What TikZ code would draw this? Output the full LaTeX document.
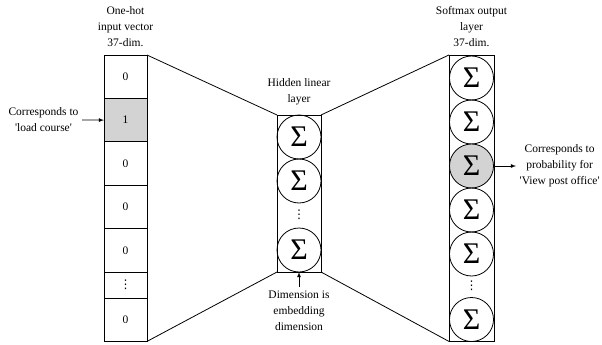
\documentclass[tikz,border=0pt]{standalone}
\usepackage{fontspec}
\setmainfont{Liberation Serif}
\newfontfamily\dotfont{DejaVu Sans}
\usetikzlibrary{arrows,calc,positioning}
\definecolor{cellgray}{RGB}{211,211,211}
\newcommand{\vdotsglyph}{{\dotfont ⋮}}
\tikzset{
	cell/.style={draw, minimum width=43pt, minimum height=43.4pt, inner sep=0pt, outer sep=0pt, font=\fontsize{11.5}{14}\selectfont},
	dotcell/.style={cell, minimum height=26pt, font=\fontsize{12}{14}\selectfont},
	unit/.style={draw, circle, minimum size=44pt, inner sep=0pt, font=\fontsize{30}{30}\selectfont},
	vdot/.style={inner sep=0pt, font=\fontsize{12}{14}\selectfont},
	lbl/.style={align=center, font=\fontsize{11.5}{16}\selectfont},
	layerbox/.style={draw, inner sep=0pt, outer sep=0pt}
}

\begin{document}
\begin{tikzpicture}[x=1pt,y=-1pt,line width=0.8pt]
		\useasboundingbox (0,0) rectangle (602,345);
		% input vector
		\node[cell] (in1) at (125.5,76.7) {0};
		\node[cell, fill=cellgray, below=0pt of in1] (in2) {1};
		\node[cell, below=0pt of in2] (in3) {0};
		\node[cell, below=0pt of in3] (in4) {0};
		\node[cell, below=0pt of in4] (in5) {0};
		\node[dotcell, below=0pt of in5] (in6) {\vdotsglyph};
		\node[cell, below=0pt of in6] (in7) {0};
		\node[lbl] (intitle) at (125.5,27) {One-hot\\input vector\\37-dim.};
		\node[lbl] (inlbl) at (43.5,120) {Corresponds to\\\textquotesingle load course\textquotesingle};
		\draw[-latex] (inlbl.east) to (in2.west);
		% hidden layer
		\node[layerbox, minimum width=44pt, minimum height=157pt] (hid) at (299,193.5) {};
		\node[unit] (h1) at (299,137) {Σ};
		\node[unit] (h2) at (299,181) {Σ};
		\node[vdot] (hdots) at (299,214.5) {\vdotsglyph};
		\node[unit] (h3) at (299,250) {Σ};
		\node[lbl] (hidtitle) at (299,92) {Hidden linear\\layer};
		\node[lbl, anchor=north] (hidlbl) at (299,287) {Dimension is\\embedding\\dimension};
		\draw[-latex] (hidlbl.north) to (hid.south);
		% output layer
		\node[layerbox, minimum width=45pt, minimum height=286.5pt] (out) at (471.5,198.2) {};
		\node[unit] (o1) at (471.5,78) {Σ};
		\node[unit] (o2) at (471.5,122) {Σ};
		\node[unit, fill=cellgray] (o3) at (471.5,166) {Σ};
		\node[unit] (o4) at (471.5,210) {Σ};
		\node[unit] (o5) at (471.5,254) {Σ};
		\node[vdot] (odots) at (471.5,286) {\vdotsglyph};
		\node[unit] (o6) at (471.5,319.5) {Σ};
		\node[lbl] (outtitle) at (471.5,27) {Softmax output\\layer\\37-dim.};
		\node[lbl, anchor=west] (outlbl) at (516,166) {Corresponds to\\probability for\\\textquotesingle View post office\textquotesingle};
		\draw[-latex] (o3.east) to (outlbl.west);
		% connecting lines
		\draw (in1.north east) to (hid.north west);
		\draw (in7.south east) to (hid.south west);
		\draw (hid.north east) to (out.north west);
		\draw (hid.south east) to (out.south west);
	\end{tikzpicture}
\end{document}
